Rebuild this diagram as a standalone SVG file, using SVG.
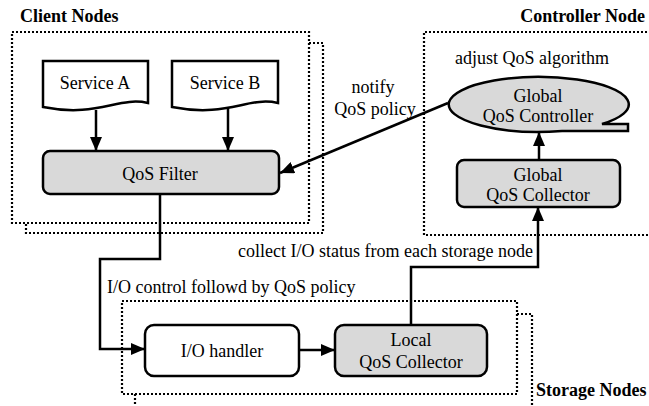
<svg xmlns="http://www.w3.org/2000/svg" width="649" height="406" viewBox="0 0 649 406">
  <style>
    text { font-family: "Liberation Serif", Tinos, "Times New Roman", "DejaVu Serif", serif; font-size: 18px; fill: #000; }
    .title { font-weight: bold; }
    .mid { text-anchor: middle; }
    .zone { fill: none; stroke: #000; stroke-width: 2.2; stroke-dasharray: 2 2; }
    .box { stroke: #000; stroke-width: 2.5; }
    .gray { fill: #d9d9d9; }
    .white { fill: #fff; }
    .wire { fill: none; stroke: #000; stroke-width: 2.5; }
  </style>
  <defs>
    <marker id="arrow" viewBox="0 0 14 12" refX="14" refY="6" markerWidth="14" markerHeight="12" markerUnits="userSpaceOnUse" orient="auto">
      <path d="M0,0 L14,6 L0,12 Z" fill="#000"/>
    </marker>
  </defs>

  <rect width="649" height="406" fill="#fff"/>

  <!-- dotted zones -->
  <g id="zones">
    <path class="zone" d="M309,43 H323 V233 H26 V223"/>
    <rect class="zone" x="12" y="32" width="297" height="191"/>
    <path class="zone" d="M655,32 H424 V235 H655"/>
    <path class="zone" d="M517,314 H532 V412"/>
    <path class="zone" d="M135,394 V412"/>
    <rect class="zone" x="122" y="301" width="395" height="93"/>
    <text class="title" x="20" y="22">Client Nodes</text>
    <text class="title" x="645" y="22" text-anchor="end">Controller Node</text>
    <text class="title" x="536" y="396">Storage Nodes</text>
  </g>

  <!-- connectors -->
  <g id="connectors">
    <line class="wire" x1="96" y1="110" x2="96" y2="151" marker-end="url(#arrow)"/>
    <line class="wire" x1="228" y1="108" x2="228" y2="151" marker-end="url(#arrow)"/>
    <line class="wire" x1="448" y1="103" x2="280" y2="173" marker-end="url(#arrow)"/>
    <line class="wire" x1="539" y1="160" x2="539" y2="132" marker-end="url(#arrow)"/>
    <path class="wire" d="M160,194 V259 H100 V349 H145" marker-end="url(#arrow)"/>
    <line class="wire" x1="299" y1="350" x2="335" y2="350" marker-end="url(#arrow)"/>
    <path class="wire" d="M411,325 V267 H538 V207" marker-end="url(#arrow)"/>
    <text class="mid" x="373" y="93">notify</text>
    <text class="mid" x="375" y="115">QoS policy</text>
    <text x="238" y="257">collect I/O status from each storage node</text>
    <text x="107" y="293">I/O control followd by QoS policy</text>
  </g>

  <g id="service-a">
    <path class="box white" d="M43,61 H148 V103 C118,96 98,118 43,107 Z"/>
    <text class="mid" x="95" y="89">Service A</text>
  </g>

  <g id="service-b">
    <path class="box white" d="M172,61 H278 V103 C248,96 228,118 172,107 Z"/>
    <text class="mid" x="225" y="89">Service B</text>
  </g>

  <g id="qos-filter">
    <rect class="box gray" x="43" y="151" width="236" height="43" rx="7"/>
    <text class="mid" x="160" y="180">QoS Filter</text>
  </g>

  <g id="global-qos-controller">
    <text class="mid" x="532" y="64">adjust QoS algorithm</text>
    <path class="box gray" d="M602,124 H628 V131 H562 A90,27.5 0 1 1 602,124 Z"/>
    <text class="mid" x="538" y="102">Global</text>
    <text class="mid" x="538" y="122">QoS Controller</text>
  </g>

  <g id="global-qos-collector">
    <rect class="box gray" x="457" y="160" width="163" height="47" rx="7"/>
    <text class="mid" x="538" y="181">Global</text>
    <text class="mid" x="538" y="201">QoS Collector</text>
  </g>

  <g id="io-handler">
    <rect class="box white" x="145" y="325" width="154" height="51" rx="9"/>
    <text class="mid" x="222" y="357">I/O handler</text>
  </g>

  <g id="local-qos-collector">
    <rect class="box gray" x="335" y="325" width="152" height="51" rx="9"/>
    <text class="mid" x="411" y="346">Local</text>
    <text class="mid" x="411" y="368">QoS Collector</text>
  </g>
</svg>
